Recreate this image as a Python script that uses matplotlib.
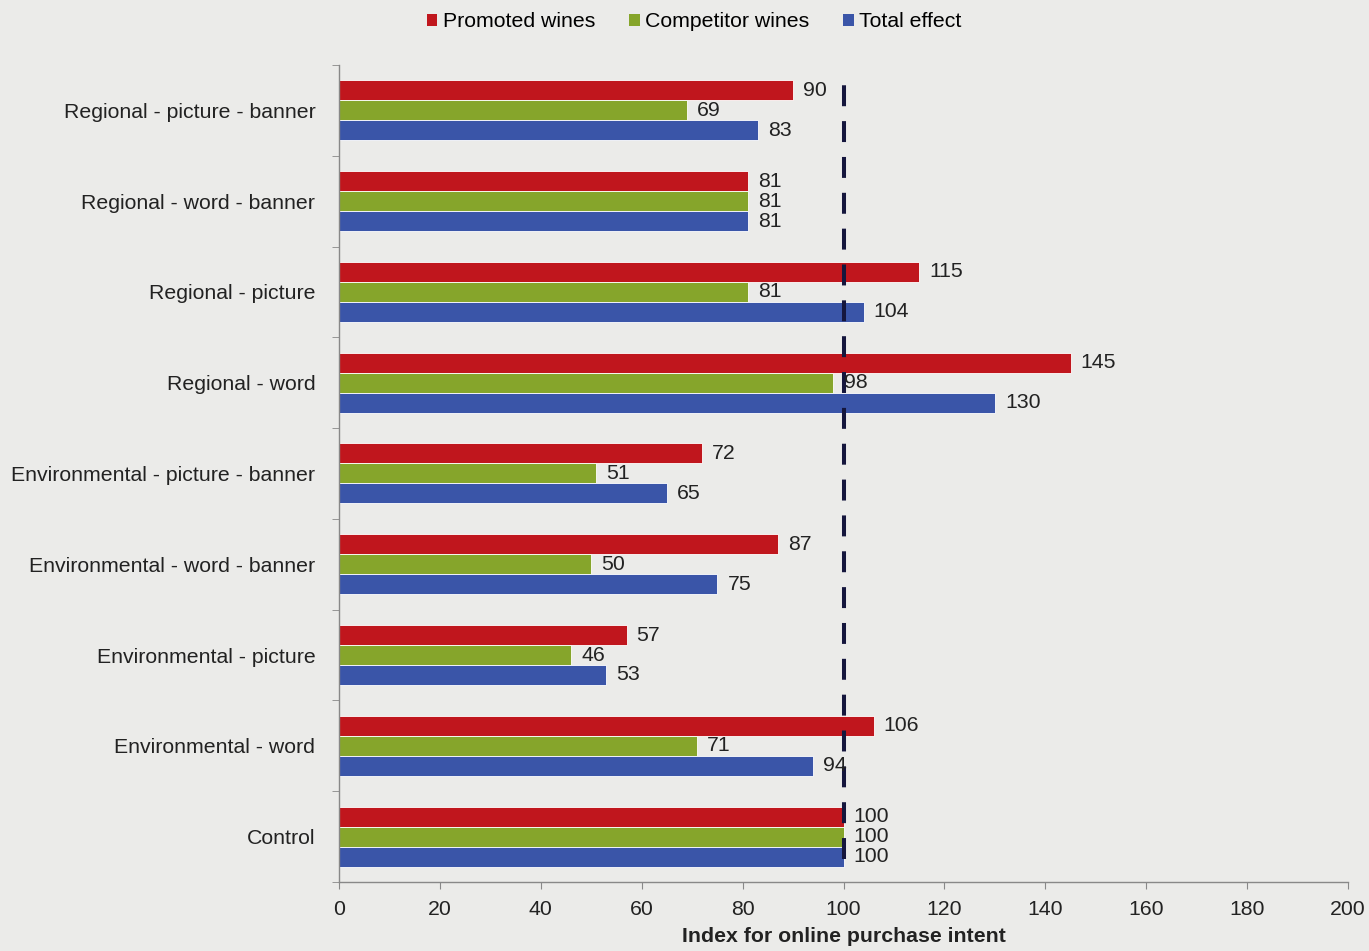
import numpy as np
import matplotlib.pyplot as plt
from matplotlib.patches import Patch

plt.rcParams['font.family'] = ['Liberation Sans', 'DejaVu Sans']

# categories listed from bottom to top
categories = ['Control', 'Environmental - word', 'Environmental - picture',
              'Environmental - word - banner', 'Environmental - picture - banner',
              'Regional - word', 'Regional - picture', 'Regional - word - banner',
              'Regional - picture - banner']
promoted = [100, 106, 57, 87, 72, 145, 115, 81, 90]
competitor = [100, 71, 46, 50, 51, 98, 81, 81, 69]
total = [100, 94, 53, 75, 65, 130, 104, 81, 83]

series = ['Promoted wines', 'Competitor wines', 'Total effect']
colors = ['#c0161d', '#86a52b', '#3a55a8']
bg = '#ebebe9'
fs = 15.3

fig = plt.figure(figsize=(13.69, 9.51), dpi=100, facecolor=bg)
ax = fig.add_axes([0.2476, 0.0726, 0.7371, 0.8591])
ax.set_facecolor(bg)

y = np.arange(len(categories))
h = 0.22
for vals, off, col in zip([promoted, competitor, total], [h, 0, -h], colors):
    bars = ax.barh(y + off, vals, height=h, color=col, edgecolor='white',
                   linewidth=0.6, zorder=2)
    for b, v in zip(bars, vals):
        ax.text(v + 2, b.get_y() + b.get_height() / 2, str(v), va='center',
                ha='left', fontsize=fs, color='#222222', zorder=4)

# reference line at the control level
ax.plot([100, 100], [-0.25, 8.28], color='#15163d', lw=2.9,
        dashes=(5.2, 3.7), zorder=3)

ax.set_xlim(0, 200)
ax.set_ylim(-0.5, 8.5)
ax.set_xticks(np.arange(0, 201, 20))
ax.set_yticks(y)
ax.set_yticklabels(categories)
ax.set_yticks(np.arange(-0.5, 9, 1), minor=True)
ax.tick_params(axis='y', which='major', length=0, pad=17, labelsize=fs,
               labelcolor='#222222')
ax.tick_params(axis='y', which='minor', length=5, color='#888888')
ax.tick_params(axis='x', length=5, color='#888888', labelsize=fs,
               labelcolor='#222222', pad=8)
for side in ['top', 'right']:
    ax.spines[side].set_visible(False)
for side in ['left', 'bottom']:
    ax.spines[side].set_color('#888888')
    ax.spines[side].set_linewidth(1)

ax.set_xlabel('Index for online purchase intent', fontsize=fs,
              fontweight='bold', color='#222222', labelpad=6)

handles = [Patch(facecolor=c, edgecolor='none') for c in colors]
fig.legend(handles, series, loc='center', bbox_to_anchor=(0.507, 0.977),
           ncol=3, frameon=False, fontsize=fs, handlelength=0.5,
           handleheight=0.5, handletextpad=0.25, columnspacing=1.6)

fig.savefig('out.png', dpi=100, facecolor=bg)
